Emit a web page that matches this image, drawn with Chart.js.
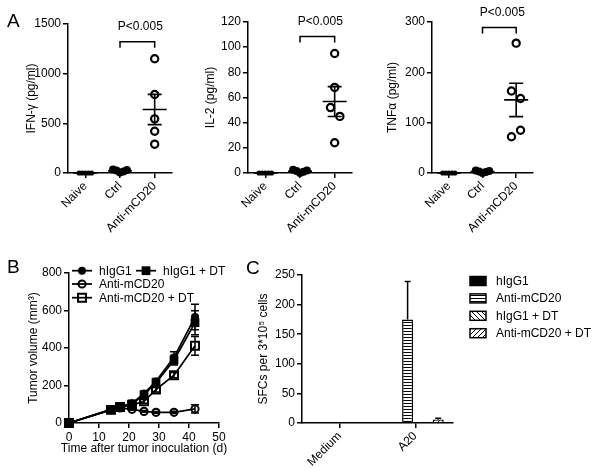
<!DOCTYPE html>
<html><head><meta charset="utf-8">
<script src="https://cdn.jsdelivr.net/npm/chart.js@4.4.0/dist/chart.umd.min.js"></script>
<style>
html,body{margin:0;padding:0;background:#fff;}
#wrap{position:relative;width:600px;height:470px;overflow:hidden;font-family:Arial,'Liberation Sans',sans-serif;}
canvas{position:absolute;}
.lbl{position:absolute;font-size:19px;color:#000;line-height:1;}
</style></head><body>
<div id="wrap">
<canvas id="a1" width="190" height="245" style="left:0;top:0;width:190px;height:245px"></canvas>
<canvas id="a2" width="180" height="245" style="left:190px;top:0;width:180px;height:245px"></canvas>
<canvas id="a3" width="230" height="245" style="left:370px;top:0;width:230px;height:245px"></canvas>
<canvas id="b" width="300" height="220" style="left:0;top:250px;width:300px;height:220px"></canvas>
<canvas id="c" width="365" height="220" style="left:235px;top:250px;width:365px;height:220px"></canvas>
<div class="lbl" style="left:7px;top:11px">A</div>
<div class="lbl" style="left:7px;top:257px">B</div>
<div class="lbl" style="left:246px;top:258px">C</div>
</div>
<script>
// ---------- data ----------
const groups = ['Naive', 'Ctrl', 'Anti-mCD20'];
const ifnNaive = [0, 0, 0, 0, 0];
const ifnCtrl = [35, 25, 5, 15, 30];
const ifnAnti = [1150, 790, 545, 420, 290];
const il2Naive = [0, 0, 0, 0, 0];
const il2Ctrl = [2.5, 1.5, 0, 1, 2];
const il2Anti = [95, 68, 52, 45, 24];
const tnfNaive = [0, 0, 0, 0, 0];
const tnfCtrl = [5, 3, 0, 2, 4];
const tnfAnti = [258, 163, 148, 85, 72];
const pLabel = 'P<0.005';

const days = [0, 14, 17, 21, 25, 29, 35, 42];
const volHIgG1 = [0, 73, 87, 105, 158, 222, 350, 565];
const semHIgG1 = [0, 6, 6, 8, 12, 15, 30, 68];
const volHIgG1DT = [0, 70, 86, 102, 150, 215, 335, 535];
const semHIgG1DT = [0, 6, 6, 8, 10, 14, 25, 64];
const volAnti = [0, 72, 80, 73, 62, 57, 57, 75];
const semAnti = [0, 4, 5, 5, 5, 5, 6, 22];
const volAntiDT = [0, 70, 85, 95, 116, 178, 255, 412];
const semAntiDT = [0, 5, 6, 7, 10, 12, 14, 50];
const bXTitle = 'Time after tumor inoculation (d)';

const stimuli = ['Medium', 'A20'];
const sfcHIgG1 = [0, 1];
const sfcAnti = [1, 175];
const sfcHIgG1DT = [0, 0];
const sfcAntiDT = [0, 6];
const sfcSemAnti = [0, 64];
const sfcSemAntiDT = [0, 2];

// horizontal spread of dots inside a group (layout only, category units)
const spreadNaive = [-0.18, -0.09, 0, 0.09, 0.18];
const spreadCtrl = [-0.2, -0.1, 0, 0.1, 0.2];
const spreadIfnAnti = [0, 0, 0, 0, 0];
const spreadIl2Anti = [0, 0, -0.12, 0.15, 0];
const spreadTnfAnti = [0, -0.14, 0.13, 0.13, -0.14];

// ---------- setup ----------
const FONT = "Arial, 'Liberation Sans', sans-serif";
Chart.defaults.font.family = FONT;
Chart.defaults.font.size = 12;
Chart.defaults.color = '#000';
Chart.defaults.animation = false;
Chart.defaults.plugins.legend.display = false;
Chart.defaults.plugins.tooltip.enabled = false;

function meanSem(v) {
  const n = v.length, m = v.reduce((a, b) => a + b, 0) / n;
  const sd = Math.sqrt(v.reduce((a, b) => a + (b - m) ** 2, 0) / (n - 1));
  return [m, sd / Math.sqrt(n)];
}
const plain = v => String(v);
const axisGrid = {drawOnChartArea: false, drawTicks: true, tickLength: 5, color: '#000', lineWidth: 1.5};
const axisBorder = {color: '#000', width: 1.5};

const dotStats = {
  id: 'dotStats',
  afterDatasetsDraw(chart) {
    const {ctx, scales: {x, y}} = chart;
    ctx.save();
    ctx.strokeStyle = '#000'; ctx.lineWidth = 1.6;
    chart.data.datasets.forEach(ds => {
      const [m, s] = meanSem(ds.values);
      const cx = x.getPixelForValue(ds.group);
      const ym = y.getPixelForValue(m);
      ctx.beginPath();
      ctx.moveTo(cx - 12, ym); ctx.lineTo(cx + 12, ym);
      if (s > 0.5 * (y.max / 100)) {
        const yt = y.getPixelForValue(m + s), yb = y.getPixelForValue(Math.max(0, m - s));
        ctx.moveTo(cx, yt); ctx.lineTo(cx, yb);
        ctx.moveTo(cx - 7, yt); ctx.lineTo(cx + 7, yt);
        ctx.moveTo(cx - 7, yb); ctx.lineTo(cx + 7, yb);
      }
      ctx.stroke();
    });
    const o = chart.options.plugins.dotStats;
    const x1 = x.getPixelForValue(1), x2 = x.getPixelForValue(2), by = y.getPixelForValue(o.bracket);
    ctx.lineWidth = 1.5;
    ctx.beginPath();
    ctx.moveTo(x1, by + 6); ctx.lineTo(x1, by); ctx.lineTo(x2, by); ctx.lineTo(x2, by + 6);
    ctx.stroke();
    ctx.fillStyle = '#000';
    ctx.font = '12px ' + FONT;
    ctx.textAlign = 'center'; ctx.textBaseline = 'alphabetic';
    ctx.fillText(pLabel, (x1 + x2) / 2 + 3, by - 11.5);
    ctx.restore();
  }
};

function dotChart(id, naive, ctrl, anti, antiSpread, yMax, yStep, title, bracket, padL, yW, padR, padT) {
  const mk = (vals, g, spread) => vals.map((v, i) => ({x: g + spread[i], y: v}));
  new Chart(document.getElementById(id), {
    type: 'scatter',
    data: {datasets: [
      {values: naive, group: 0, data: mk(naive, 0, spreadNaive), pointRadius: 2.6, pointBackgroundColor: '#000', pointBorderColor: '#000', pointBorderWidth: 0, clip: false},
      {values: ctrl, group: 1, data: mk(ctrl, 1, spreadCtrl), pointRadius: 4, pointBackgroundColor: '#000', pointBorderColor: '#000', pointBorderWidth: 0, clip: false},
      {values: anti, group: 2, data: mk(anti, 2, antiSpread), pointRadius: 3.6, pointBackgroundColor: '#fff', pointBorderColor: '#000', pointBorderWidth: 2.2, clip: false}
    ]},
    options: {
      responsive: false,
      layout: {padding: {left: padL, right: padR, top: padT, bottom: 0}},
      plugins: {dotStats: {bracket}},
      scales: {
        x: {type: 'linear', min: -0.5, max: 2.5,
          afterBuildTicks(s) { s.ticks = [0, 1, 2].map(v => ({value: v})); },
          afterFit(s) { s.height = 245 - 173; },
          ticks: {callback: v => groups[v], minRotation: 45, maxRotation: 45, autoSkip: false, padding: 1, color: '#000', font: {size: 12}},
          grid: axisGrid, border: axisBorder},
        y: {min: 0, max: yMax,
          afterFit(s) { s.width = yW; },
          ticks: {stepSize: yStep, callback: plain, padding: 2, color: '#000', font: {size: 12}},
          grid: axisGrid, border: axisBorder,
          title: {display: true, text: title, color: '#000', font: {size: 12}, padding: 0}}
      }
    },
    plugins: [dotStats]
  });
}

dotChart('a1', ifnNaive, ifnCtrl, ifnAnti, spreadIfnAnti, 1500, 500, 'IFN-γ (pg/ml)', 1322, 24, 44, 18, 24);
dotChart('a2', il2Naive, il2Ctrl, il2Anti, spreadIl2Anti, 120, 20, 'IL-2 (pg/ml)', 108.5, 13, 45, 18, 22);
dotChart('a3', tnfNaive, tnfCtrl, tnfAnti, spreadTnfAnti, 300, 100, 'TNFα (pg/ml)', 289, 15, 47, 67, 22);

// ---------- panel B ----------
const errBarsB = {
  id: 'errBarsB',
  beforeDatasetsDraw(chart) {
    const {ctx, scales: {x, y}} = chart;
    ctx.save(); ctx.strokeStyle = '#000'; ctx.lineWidth = 1.5;
    chart.data.datasets.forEach(ds => {
      ds.data.forEach((p, i) => {
        const e = ds.errors[i]; if (!e) return;
        const cx = x.getPixelForValue(p.x), t = y.getPixelForValue(p.y + e), b = y.getPixelForValue(p.y - e);
        ctx.beginPath();
        ctx.moveTo(cx, t); ctx.lineTo(cx, b);
        ctx.moveTo(cx - 4, t); ctx.lineTo(cx + 4, t);
        ctx.moveTo(cx - 4, b); ctx.lineTo(cx + 4, b);
        ctx.stroke();
      });
    });
    ctx.restore();
  }
};
const legendB = {
  id: 'legendB',
  afterDraw(chart) {
    const {ctx, chartArea: a} = chart;
    const items = chart.options.plugins.legendB.items;
    ctx.save();
    ctx.font = '12px ' + FONT; ctx.textBaseline = 'middle'; ctx.textAlign = 'left';
    items.forEach(it => {
      const ds = chart.data.datasets[it.ds];
      const x0 = a.left + it.dx, y0 = a.top + it.dy;
      ctx.strokeStyle = '#000'; ctx.lineWidth = 1.75;
      ctx.beginPath(); ctx.moveTo(x0, y0); ctx.lineTo(x0 + 20, y0); ctx.stroke();
      ctx.fillStyle = ds.pointBackgroundColor; ctx.lineWidth = ds.pointBorderWidth;
      Chart.helpers.drawPoint(ctx, {pointStyle: ds.pointStyle, radius: ds.pointRadius, rotation: 0, borderWidth: ds.pointBorderWidth}, x0 + 10, y0);
      ctx.fillStyle = '#000';
      ctx.fillText(ds.label, x0 + 27, y0 + 0.5);
    });
    // x-axis title (drawn without width squeezing)
    ctx.textAlign = 'center';
    ctx.fillText(bXTitle, (a.left + a.right) / 2, a.bottom + 26);
    ctx.restore();
  }
};
const pts = vals => vals.map((v, i) => ({x: days[i], y: v}));
const lineDs = (label, vals, errs, style, r, fill, bw) => ({
  label, data: pts(vals), errors: errs, borderColor: '#000', borderWidth: 1.75,
  pointStyle: style, pointRadius: r, pointBackgroundColor: fill, pointBorderColor: '#000', pointBorderWidth: bw,
  clip: false, tension: 0
});
new Chart(document.getElementById('b'), {
  type: 'line',
  data: {datasets: [
    lineDs('hIgG1 + DT', volHIgG1DT, semHIgG1DT, 'rect', 6.2, '#000', 0),
    lineDs('hIgG1', volHIgG1, semHIgG1, 'circle', 4, '#000', 0),
    lineDs('Anti-mCD20', volAnti, semAnti, 'circle', 3.6, 'rgba(0,0,0,0)', 2),
    lineDs('Anti-mCD20 + DT', volAntiDT, semAntiDT, 'rect', 5.6, 'rgba(0,0,0,0)', 2)
  ]},
  options: {
    responsive: false,
    layout: {padding: {left: 26, right: 81, top: 23, bottom: 14}},
    plugins: {legendB: {items: [
      {ds: 1, dx: 3, dy: -2.3}, {ds: 0, dx: 67, dy: -2.3},
      {ds: 2, dx: 3, dy: 11}, {ds: 3, dx: 3, dy: 24.7}
    ]}},
    scales: {
      x: {type: 'linear', min: 0, max: 50,
        afterFit(s) { s.height = 33; },
        ticks: {stepSize: 10, callback: plain, padding: 2, color: '#000', font: {size: 12}},
        grid: axisGrid, border: axisBorder},
      y: {min: 0, max: 800,
        afterFit(s) { s.width = 43; },
        ticks: {stepSize: 200, callback: plain, padding: 2, color: '#000', font: {size: 12}},
        grid: axisGrid, border: axisBorder,
        title: {display: true, text: 'Tumor volume (mm³)', color: '#000', font: {size: 12}, padding: 0}}
    }
  },
  plugins: [errBarsB, legendB]
});

// ---------- panel C ----------
function makePattern(kind) {
  const c = document.createElement('canvas');
  const n = kind === 'h' ? 3 : 5;
  c.width = n; c.height = n;
  const g = c.getContext('2d');
  g.fillStyle = '#fff'; g.fillRect(0, 0, n, n);
  g.strokeStyle = '#000'; g.lineWidth = 1;
  g.beginPath();
  if (kind === 'h') { g.moveTo(0, 0.5); g.lineTo(n, 0.5); }
  else if (kind === 'b') { g.moveTo(-1, -1); g.lineTo(n + 1, n + 1); g.moveTo(-1, n - 1); g.lineTo(1, n + 1); g.moveTo(n - 1, -1); g.lineTo(n + 1, 1); }
  else { g.moveTo(-1, n + 1); g.lineTo(n + 1, -1); g.moveTo(-1, 1); g.lineTo(1, -1); g.moveTo(n - 1, n + 1); g.lineTo(n + 1, n - 1); }
  g.stroke();
  return g.createPattern(c, 'repeat');
}
const errBarsC = {
  id: 'errBarsC',
  afterDatasetsDraw(chart) {
    const {ctx, scales: {y}} = chart;
    ctx.save(); ctx.strokeStyle = '#000'; ctx.lineWidth = 1.5;
    chart.data.datasets.forEach((ds, i) => {
      if (!ds.errors) return;
      chart.getDatasetMeta(i).data.forEach((bar, j) => {
        const e = ds.errors[j]; if (!e) return;
        const top = y.getPixelForValue(ds.data[j] + e);
        ctx.beginPath();
        ctx.moveTo(bar.x, bar.y); ctx.lineTo(bar.x, top);
        ctx.moveTo(bar.x - 3, top); ctx.lineTo(bar.x + 3, top);
        ctx.stroke();
      });
    });
    ctx.restore();
  }
};
const legendC = {
  id: 'legendC',
  afterDraw(chart) {
    const {ctx, chartArea: a} = chart;
    ctx.save();
    ctx.font = '12px ' + FONT; ctx.textBaseline = 'middle'; ctx.textAlign = 'left';
    chart.data.datasets.forEach((ds, i) => {
      const x0 = a.right + 17, y0 = a.top + 6 + i * 17.4;
      ctx.fillStyle = ds.backgroundColor;
      ctx.fillRect(x0, y0 - 4.5, 16, 9);
      ctx.strokeStyle = '#000'; ctx.lineWidth = 1.5;
      ctx.strokeRect(x0, y0 - 4.5, 16, 9);
      ctx.fillStyle = '#000';
      ctx.fillText(ds.label, x0 + 26, y0 + 0.5);
    });
    ctx.restore();
  }
};
const barDs = (label, vals, bg, errs) => ({label, data: vals, errors: errs, backgroundColor: bg, borderColor: '#000', borderWidth: 1.5, borderSkipped: 'start'});
new Chart(document.getElementById('c'), {
  type: 'bar',
  data: {labels: stimuli, datasets: [
    barDs('hIgG1', sfcHIgG1, '#000', null),
    barDs('Anti-mCD20', sfcAnti, makePattern('h'), sfcSemAnti),
    barDs('hIgG1 + DT', sfcHIgG1DT, makePattern('b'), null),
    barDs('Anti-mCD20 + DT', sfcAntiDT, makePattern('f'), sfcSemAntiDT)
  ]},
  options: {
    responsive: false,
    barPercentage: 0.72, categoryPercentage: 0.81,
    layout: {padding: {left: 21, right: 147, top: 25, bottom: 0}},
    scales: {
      x: {afterFit(s) { s.height = 47; },
        ticks: {minRotation: 45, maxRotation: 45, autoSkip: false, padding: 1, color: '#000', font: {size: 12}},
        grid: Object.assign({}, axisGrid, {offset: false}), border: axisBorder},
      y: {min: 0, max: 250,
        afterFit(s) { s.width = 46; },
        ticks: {stepSize: 50, callback: plain, padding: 2, color: '#000', font: {size: 12}},
        grid: axisGrid, border: axisBorder,
        title: {display: true, text: 'SFCs per 3*10⁵ cells', color: '#000', font: {size: 12}, padding: 0}}
    }
  },
  plugins: [errBarsC, legendC]
});
</script>
</body></html>
